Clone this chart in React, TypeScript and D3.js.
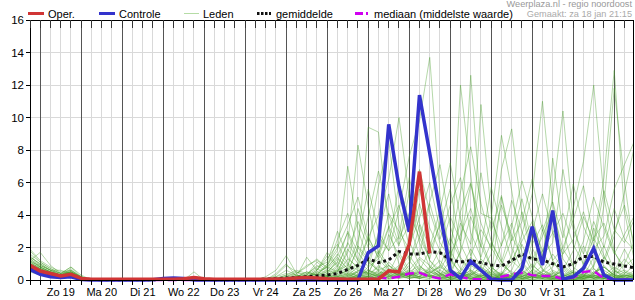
import React from "react";
import * as d3 from "d3";

// time axis: hours relative to 19 jan 00:00, 6-hourly steps
const startHour = -6;
const stepHours = 6;

const dayLabels = ["Zo 19","Ma 20","Di 21","Wo 22","Do 23","Vr 24","Za 25","Zo 26","Ma 27","Di 28","Wo 29","Do 30","Vr 31","Za 1"];
const yTicks = [0, 2, 4, 6, 8, 10, 12, 14, 16];

const oper = [0.9,0.55,0.4,0.25,0.35,0.1,0.05,0.05,0.05,0.05,
  0.05,0.05,0.05,0.05,0.05,0.08,0.15,0.08,0.05,0.05,
  0.05,0.05,0.05,0.05,0.06,0.08,0.12,0.15,0.12,0.08,
  0.06,0.05,0.05,0.05,0.05,0.57,0.5,2.2,6.67,1.64];

const controle = [0.65,0.35,0.2,0.15,0.2,0.03,0,0,0,0,
  0,0,0.02,0.1,0.12,0.1,0,0,0,0,
  0,0,0,0,0,0,0,0,0,0,
  0,0,0,1.68,2.1,9.58,5.74,2.97,11.38,7.8,
  4.2,0.6,0.1,1.15,0.6,0.05,0,0,0.7,3.28,
  0.92,4.27,0.05,0.2,0.72,1.95,0.3,0,0,0];

const gemiddelde = [0.75,0.45,0.3,0.2,0.3,0.08,0.03,0.02,0.02,0.02,
  0.02,0.02,0.02,0.03,0.03,0.03,0.05,0.03,0.02,0.02,
  0.02,0.03,0.03,0.05,0.08,0.12,0.15,0.2,0.25,0.3,
  0.4,0.65,0.9,1.3,1.07,1.23,1.75,1.6,1.6,1.74,
  1.68,1.25,1.1,1.2,1.07,0.92,0.86,1.2,1.6,1.3,
  1.23,1.0,0.8,1.0,1.45,1.45,1.1,0.98,0.86,0.75];

const mediaan = [0.7,0.4,0.25,0.15,0.25,0.02,0,0,0,0,
  0,0,0,0,0,0,0,0,0,0,
  0,0,0,0,0,0,0,0,0,0,
  0,0,0.02,0.05,0.15,0.1,0.2,0.4,0.45,0.2,
  0.1,0.35,0.2,0.05,0.05,0.02,0.2,0.35,0.45,0.3,
  0.25,0.25,0.05,0.15,0.5,0.55,0.1,0.02,0.02,0.02];

const m01 = [1.9,1.2,0.8,0.5,0.6,0.2,0.05,0,0,0, 0,0,0,0,0,0,0,0,0,0, 0,0,0,0.2,0.6,1.5,0.4,0.9,1.2,0.8, 2.5,4.1,2.0,1.1,0.6,2.8,1.5,0.4,0.2,0.1, 0.3,1.2,0.5,0,0.1,0.4,2.2,3.5,1.0,0.2, 0,0.1,0.8,0.3,0,0.2,1.4,0.6,0.1,0];
const m02 = [1.2,1.7,0.9,0.4,0.8,0.3,0,0,0,0, 0,0,0,0,0,0,0.5,0,0,0, 0,0,0,0,0.1,0.3,0.2,0.5,0.3,0.9, 1.8,7.0,3.1,1.2,0.5,0.3,0.8,2.4,0.9,0.3, 0,0,0.2,0.6,0.1,0,0,0.3,1.1,0.4, 0.2,0,0,0.5,2.1,0.7,0.1,0,0.3,0.1];
const m03 = [1.0,0.6,0.4,0.3,0.5,0.1,0,0,0,0, 0,0,0,0.1,0.1,0,0,0,0,0, 0,0,0,0,0.4,1.0,0.2,1.4,0.6,1.7, 0.9,2.2,8.3,4.5,1.6,0.7,0.2,0.9,3.4,1.2, 0.4,0.1,0,0,0.3,0.8,0.2,0,0,0.6, 1.8,0.5,0,0,0.1,0.4,0.9,0.2,0,0];
const m04 = [0.8,0.5,0.3,0.2,0.3,0.05,0,0,0,0, 0,0,0,0,0,0,0,0,0,0, 0,0,0,0,0,0.2,0.1,0.4,0.3,0.5, 1.1,0.6,1.9,9.4,9.1,3.2,1.0,0.4,0.1,0, 0,0.2,0.4,0.1,0,0,0.3,1.5,4.2,2.0, 0.6,0.1,0,0,0.2,0.3,0.1,0,0.4,0.9];
const m05 = [0.6,0.3,0.2,0.1,0.2,0,0,0,0,0, 0,0,0,0,0,0,0,0,0,0, 0,0,0,0,0,0,0,0.1,0.3,0.6, 0.4,1.3,0.8,2.6,4.0,6.2,10.0,5.1,2.3,0.8, 0.2,0,0,0.4,1.3,0.6,0,0,0.2,0.5, 3.1,1.2,0.2,0,0,0,0.3,0.8,0.4,0.1];
const m06 = [1.5,0.9,0.6,0.6,0.4,0.1,0,0,0,0, 0,0,0,0,0,0,0,0,0,0, 0,0,0,0,0,0.1,0,0.2,0.4,0.2, 0.7,0.3,0.5,1.2,2.7,1.8,4.3,7.6,9.8,13.7, 5.2,1.4,0.3,0,0,0.1,0.2,0,0.4,1.0, 0.3,0,0,0.2,0.6,0.1,0,0,0.1,0.3];
const m07 = [0.9,0.7,0.5,0.3,0.7,0.1,0,0,0,0, 0,0,0,0,0,0,0.2,0.1,0,0, 0,0,0,0,0.3,0.9,0.5,0.2,0.1,0.3, 0.2,0.6,1.0,0.4,1.6,3.3,2.1,5.4,3.0,1.2, 0.6,0.3,12.0,6.5,1.1,0.4,0.1,0,0,0.2, 0.5,1.6,0.7,0.2,0,0,0.1,0.4,1.3,0.6];
const m08 = [1.3,0.8,0.5,0.3,0.4,0.15,0,0,0,0, 0,0,0,0,0,0,0,0,0,0, 0,0,0,0,0,0,0,0,0.2,0.4, 0.9,0.5,0.2,0.8,1.3,0.6,0.3,1.1,2.6,4.8, 7.1,3.3,1.4,0.6,10.8,4.1,1.2,0.3,0.1,0, 0,0.2,0.6,0.1,0,0.4,0.8,0.3,0,0];
const m09 = [0.7,0.4,0.3,0.2,0.3,0.05,0,0,0,0, 0,0,0,0,0,0,0,0,0,0, 0,0,0,0,0.1,0.2,0.1,0.3,0.1,0.2, 0.3,0.1,0.6,0.4,0.2,0.9,0.5,0.2,0.6,1.8, 3.4,5.6,2.2,0.9,0.5,1.6,6.8,9.3,4.0,1.5, 0.7,0.2,0,0,0.1,0.3,0.2,0,0,0.1];
const m10 = [1.1,0.7,0.4,0.3,0.4,0.1,0,0,0,0, 0,0,0,0,0,0,0,0,0,0, 0,0,0,0,0,0,0,0,0,0.1, 0.2,0.4,0.1,0.3,0.8,0.4,0.2,0.5,0.9,0.3, 0.1,0.5,1.7,3.9,2.1,0.8,0.3,1.0,2.8,5.3, 11.0,4.7,1.3,0.4,0.2,0.9,2.1,0.6,0.2,0];
const m11 = [0.7,0.5,0.3,0.2,0.2,0.05,0,0,0,0, 0,0,0,0,0,0,0,0,0,0, 0,0,0,0,0,0,0,0.1,0,0.2, 0.1,0.3,0.2,0.6,0.3,0.1,0.4,0.2,0.7,0.4, 0.9,0.3,0.1,0.5,0.2,0,0.4,1.2,0.6,2.9, 1.4,5.2,10.4,3.6,0.8,0.3,0.1,0.5,1.9,0.7];
const m12 = [0.9,0.6,0.4,0.2,0.5,0.1,0,0,0,0, 0,0,0,0,0,0,0,0,0,0, 0,0,0,0,0,0,0,0,0,0, 0,0.1,0.2,0.5,0.2,0.3,0.7,1.5,0.6,0.2, 0.4,0.1,0,0.3,0.8,2.3,1.1,0.4,0.2,0.6, 0.3,0.8,1.6,4.4,7.3,12.0,5.1,1.8,0.5,0.2];
const m13 = [1.4,1.0,0.6,0.4,0.5,0.2,0,0,0,0, 0,0,0,0,0,0,0,0,0,0, 0,0,0,0,0,0,0,0.2,0.1,0.3, 0.6,0.9,0.4,0.2,0.5,0.3,0.1,0.4,0.2,0.7, 1.9,0.6,0.2,0.4,0.1,0.3,0.9,0.5,0.3,0.1, 0.4,0.2,0.6,1.8,3.9,2.4,6.3,12.9,4.2,1.1];
const m14 = [0.5,0.3,0.2,0.1,0.2,0,0,0,0,0, 0,0,0,0,0,0,0,0,0,0, 0,0,0,0,0,0,0,0,0,0.1, 0.1,0.2,0.1,0,0.3,0.1,0.2,0.1,0.4,0.2, 0.1,0,0.3,0.1,0.2,0.5,0.2,0.1,0,0.2, 0.6,0.3,0.1,0.2,0.9,0.4,1.1,2.7,5.4,8.3];
const m15 = [0.8,0.6,0.4,0.3,0.6,0.1,0,0,0,0, 0,0,0,0,0,0,0,0,0,0, 0,0,0,0,0.1,0.3,0.6,0.4,0.8,1.1, 3.0,1.4,0.7,0.3,0.1,0.2,0.6,0.3,0.1,0.4, 0.8,2.6,1.3,0.5,0.2,0.1,0.3,0,0.1,0.2, 0.1,0.4,0.2,0,0.3,0.7,0.2,0.1,0.5,0.2];
const m16 = [1.0,0.8,0.5,0.3,0.4,0.1,0,0,0,0, 0,0,0,0,0,0,0,0,0,0, 0,0,0,0,0,0,0.1,0.2,0.5,0.3, 0.8,0.4,2.1,1.3,0.6,0.9,0.4,0.2,0.1,0.3, 0.2,0.1,0.5,1.4,0.7,0.3,0.1,0.4,0.2,0, 0.1,0,0.3,0.6,0.2,0.1,0.4,0.2,0,0];
const m17 = [0.6,0.4,0.3,0.2,0.3,0.05,0,0,0,0, 0,0,0,0,0,0,0,0,0,0, 0,0,0,0,0,0,0,0,0.1,0.1, 0.2,0.1,0.3,0.2,0.1,0.4,0.9,0.3,0.2,0.1, 0.3,0.7,0.2,0.1,0,0.2,0.1,0.3,0.6,0.2, 0.1,0.3,0.1,0,0.2,0.5,0.8,0.3,0.1,0];
const m18 = [1.1,0.9,0.6,0.3,0.5,0.15,0,0,0,0, 0,0,0,0,0,0,0,0,0,0, 0,0,0,0,0,0.1,0,0.3,0.7,0.4, 1.3,0.7,0.3,0.2,0.6,0.3,0.1,0.2,0.5,0.3, 0.1,0,0.2,0.1,0.3,0.1,0,0.2,0.4,0.1, 0.3,0.1,0,0.4,0.1,0.2,0.1,0,0.2,0.4];
const m19 = [0.7,0.4,0.3,0.2,0.3,0.05,0,0,0,0, 0,0,0,0,0,0,0,0,0,0, 0,0,0,0,0,0,0,0,0,0, 0,0.1,0,0.2,0.1,0,0.3,0.1,0.2,0.5, 0.3,0.1,0.4,0.2,0,0.1,0.3,0.2,0.1,0, 0.2,0.1,0.3,0.2,0.1,0,0.2,0.1,0,0.1];
const m20 = [1.6,1.1,0.7,0.4,0.5,0.2,0,0,0,0, 0,0,0,0,0,0,0,0,0,0, 0,0,0,0,0,0,0,0,0,0.2, 0.5,1.7,3.6,2.0,5.8,8.6,3.4,1.2,0.4,0.2, 0.5,0.3,0.1,0.3,0.6,0.2,0.1,0,0.2,0.4, 0.1,0,0.2,0.5,0.3,0.1,0.4,0.2,1.0,2.4];
const m21 = [0.9,0.5,0.3,0.2,0.3,0.1,0,0,0,0, 0,0,0,0,0,0,0,0,0,0, 0,0,0,0,0,0,0,0,0,0, 0.1,0,0.2,0.4,0.3,1.1,0.5,2.0,4.7,2.4, 1.0,0.3,4.2,6.0,2.5,0.8,0.3,0.1,0.3,0.9, 0.4,0.2,0.1,0.3,0.8,3.2,1.5,0.4,0.1,0];
const m22 = [1.2,0.8,0.5,0.3,0.4,0.1,0,0,0,0, 0,0,0,0,0,0,0,0,0,0, 0,0,0,0.1,0.2,0.4,0.3,0.1,0.5,0.8, 1.5,2.9,1.2,0.6,0.3,0.7,0.4,0.2,1.3,0.6, 0.3,0.1,0.6,1.9,0.8,0.3,5.1,2.0,0.6,0.2, 0.1,0.5,0.3,0.1,0.4,0.2,0,0.1,0.3,0.2];
const m23 = [0.8,0.5,0.4,0.2,0.4,0.1,0,0,0,0, 0,0,0,0,0,0,0,0,0,0, 0,0,0,0,0,0,0,0,0.1,0, 0.3,0.6,0.2,0.1,0.4,0.2,0.5,0.3,0.8,0.5, 0.2,0.6,0.4,0.2,0.1,0.3,0.5,0.2,0.1,0.3, 0.9,7.5,3.1,0.8,0.3,0.1,0.2,0.6,0.3,0.1];
const m24 = [1.0,0.7,0.4,0.3,0.4,0.1,0,0,0,0, 0,0,0,0,0,0,0,0,0,0, 0,0,0,0,0,0,0,0,0,0.1, 0.2,0.4,0.3,0.1,0.2,0.5,0.3,0.6,1.4,0.9, 0.4,0.2,0.1,0.2,0.4,0.2,0.1,0.3,0.2,0.1, 0.2,0.4,0.1,0.2,0.3,0.8,4.6,11.8,6.1,1.4];
const m25 = [0.6,0.4,0.2,0.2,0.2,0,0,0,0,0, 0,0,0,0,0,0,0,0,0,0, 0,0,0,0,0,0.1,0.2,0.1,0,0.3, 0.1,0.2,0.1,0.2,0.3,0.1,0.2,0.3,0.4,0.2, 0.1,0.3,1.8,12.6,4.1,3.8,8.9,5.5,1.7,0.5, 0.2,0.1,0,0.1,0.2,0.1,0.3,0.1,0,0];
const m26 = [1.3,0.9,0.6,0.4,0.6,0.2,0,0,0,0, 0,0,0,0,0,0,0,0,0,0, 0,0,0,0,0,0,0,0.1,0.2,0.1, 0.4,0.2,0.5,0.3,0.9,0.4,1.7,0.6,0.3,0.5, 0.8,0.4,0.2,0.6,0.3,0.2,0.4,0.1,0.3,0.2, 0.5,1.1,0.4,0.2,0.1,0.3,0.2,0.4,0.6,0.3];
const m27 = [0.7,0.5,0.3,0.2,0.3,0.05,0,0,0,0, 0,0,0,0,0,0,0,0,0,0, 0,0,0,0,0,0,0,0,0,0, 0.1,0.3,0.1,0.2,0.1,0.2,0.3,0.1,0.2,0.6, 1.2,0.4,0.2,0.1,0.3,0.1,0.2,0.6,2.2,0.7, 0.3,0.2,0.9,0.4,0.1,0.2,0.1,0.3,0.2,0.1];
const m28 = [1.1,0.7,0.5,0.3,0.4,0.1,0,0,0,0, 0,0,0,0,0,0,0,0,0,0, 0,0,0,0,0,0,0,0.1,0.3,0.2, 0.6,0.3,0.8,0.4,0.2,0.6,0.3,0.2,0.1,0.3, 0.6,1.8,0.7,0.3,0.1,0.2,0.4,0.2,0.1,0.3, 0.2,0.6,0.3,0.1,0.2,1.4,0.6,0.2,0.1,0.3];
const m29 = [0.9,0.6,0.4,0.2,0.4,0.1,0,0,0,0, 0,0,0,0,0,0,0,0,0,0, 0,0,0,0,0,0,0,0,0,0, 0.2,0.1,0.3,0.6,0.4,0.2,0.4,0.3,0.5,0.2, 0.1,0.2,0.4,0.3,0.8,0.4,0.2,0.1,0.4,0.3, 0.2,0.1,0.2,0.5,0.3,0.2,0.1,0.2,0.3,0.2];
const m30 = [1.8,1.1,0.7,0.4,0.8,0.2,0,0,0,0, 0,0,0,0,0,0,0,0,0,0, 0,0,0,0,0,0.1,0.3,0.2,0.6,1.3, 2.2,1.0,0.6,0.4,1.8,0.9,0.3,0.5,0.2,0.8, 0.4,0.1,0.2,0.4,0.2,0.6,0.3,0.1,0.5,0.2, 0.3,0.2,0.1,0.3,0.2,0.4,0.8,0.3,0.2,0.6];
const m31 = [1.0,0.6,0.4,0.3,0.4,0.1,0,0,0,0, 0,0,0,0,0,0,0,0,0,0, 0,0,0,0,0,0,0.2,0.5,0.3,1.0, 2.0,3.4,5.1,2.6,1.4,3.2,4.6,2.1,3.8,6.0, 3.1,1.6,2.8,4.4,2.0,5.7,3.3,1.2,2.4,3.6, 1.8,2.9,4.1,2.2,1.0,2.6,3.5,1.7,0.8,1.4];
const m32 = [0.8,0.5,0.3,0.2,0.3,0.1,0,0,0,0, 0,0,0,0,0,0,0,0,0,0, 0,0,0,0,0,0.1,0.4,0.8,1.3,0.7, 1.6,0.9,2.4,5.6,3.0,1.8,2.7,6.3,3.5,2.0, 4.3,7.2,3.8,1.5,3.1,2.0,0.9,2.5,5.0,2.2, 3.4,1.2,2.0,3.7,5.8,2.6,1.3,3.0,4.6,2.1];
const m33 = [1.4,1.0,0.6,0.3,0.5,0.1,0,0,0,0, 0,0,0,0,0,0,0,0,0,0, 0,0,0,0,0.2,0.6,0.3,0.2,0.6,1.5, 0.8,2.3,1.2,3.9,6.7,4.0,2.2,3.4,1.5,4.7, 2.5,4.6,6.3,2.9,1.4,3.7,2.1,4.9,3.0,1.2, 2.7,4.3,1.9,0.9,2.4,5.1,3.2,1.6,2.8,4.0];
const m34 = [0.7,0.4,0.3,0.2,0.2,0.05,0,0,0,0, 0,0,0,0,0,0,0,0,0,0, 0,0,0,0,0,0,0.1,0.3,0.9,0.5, 1.1,3.0,1.7,0.8,2.9,5.3,2.5,4.1,2.6,1.3, 3.6,2.1,5.4,8.2,4.7,2.4,1.1,3.3,6.1,3.9, 1.5,2.3,6.8,3.1,1.6,3.6,2.0,4.4,2.5,1.8];
const m35 = [1.2,0.8,0.5,0.3,0.5,0.15,0,0,0,0, 0,0,0,0,0,0,0.1,0,0,0, 0,0,0,0,0.1,0.2,0.5,0.3,1.1,0.6, 1.4,0.7,4.4,2.3,1.6,4.1,3.0,1.9,5.6,3.2, 1.8,3.9,2.4,5.9,3.5,1.9,4.6,2.7,1.4,3.0, 5.3,2.9,1.6,2.5,4.2,2.1,5.5,3.1,2.3,3.8];
const m36 = [0.9,0.7,0.4,0.3,0.4,0.1,0,0,0,0, 0,0,0,0,0,0,0,0,0,0, 0,0,0,0,0,0,0.2,0.1,0.4,0.8, 0.5,1.9,1.0,2.7,1.3,2.2,5.9,3.6,6.8,4.2, 2.3,1.3,3.5,2.2,6.6,3.0,5.2,2.4,3.6,6.2, 3.0,4.8,2.6,5.9,3.3,1.9,2.7,5.6,7.1,8.6];

const leden = [m01,m02,m03,m04,m05,m06,m07,m08,m09,m10,m11,m12,m13,m14,m15,m16,m17,m18,
  m19,m20,m21,m22,m23,m24,m25,m26,m27,m28,m29,m30,m31,m32,m33,m34,m35,m36];

const W = 635, H = 300;
const L = 30, R = 633, T = 20, B = 280;
const FONT = '"Liberation Sans", Arial, Helvetica, sans-serif';

export default function App() {
  const x = d3.scaleLinear().domain([-6, 347]).range([L, R]);
  const y = d3.scaleLinear().domain([0, 16]).range([B, T]);
  const hourOf = (i: number) => startHour + stepHours * i;
  const line = d3.line<number>().x((_, i) => x(hourOf(i))).y((d) => y(d));

  const sixHours = d3.range(-6, 347, 6);
  const dayHours = sixHours.filter((h) => h % 24 === 0);
  const minorHours = sixHours.filter((h) => h % 24 !== 0 && h > -6);

  return (
    <svg width={W} height={H} style={{ position: "absolute", left: 0, top: 0, background: "#fff" }} fontFamily={FONT}>
      <defs>
        <clipPath id="plotclip">
          <rect x={L} y={0} width={R - L} height={H} />
        </clipPath>
      </defs>
      <rect x={0} y={0} width={W} height={H} fill="#fff" />
      {/* grid */}
      <g shapeRendering="crispEdges">
        {yTicks.filter((v) => v > 0 && v < 16).map((v) => (
          <line key={"hy" + v} x1={L} x2={R} y1={y(v)} y2={y(v)} stroke="#d9d9d9" />
        ))}
        {minorHours.map((h) => (
          <line key={"gx" + h} x1={x(h)} x2={x(h)} y1={T} y2={B} stroke="#d9d9d9" />
        ))}
        {dayHours.map((h) => (
          <line key={"dx" + h} x1={x(h)} x2={x(h)} y1={T} y2={B} stroke="#555" />
        ))}
      </g>
      {/* series */}
      <g clipPath="url(#plotclip)" fill="none" strokeLinejoin="round">
        {leden.map((m, k) => (
          <path key={"m" + k} d={line(m) || ""} stroke="rgb(70,158,40)" strokeOpacity={0.4} strokeWidth={1} />
        ))}
        <path d={line(mediaan) || ""} stroke="#d000f0" strokeWidth={2.5} strokeDasharray="9,5" strokeLinejoin="miter" />
        <path d={line(gemiddelde) || ""} stroke="#111" strokeWidth={3} strokeDasharray="3,3" strokeLinejoin="miter" />
        <path d={line(controle) || ""} stroke="#3333cc" strokeWidth={3.5} strokeLinejoin="miter" />
        <path d={line(oper) || ""} stroke="#d03535" strokeWidth={3.5} strokeLinejoin="miter" />
      </g>
      {/* frame + ticks */}
      <g shapeRendering="crispEdges" stroke="#000">
        <line x1={L} x2={R} y1={T} y2={T} />
        <line x1={L} x2={R} y1={B} y2={B} />
        <line x1={L} x2={L} y1={T} y2={B} />
        <line x1={R} x2={R} y1={T} y2={B} />
        {sixHours.map((h) => (
          <line key={"bt" + h} x1={x(h)} x2={x(h)} y1={B} y2={B + 5} />
        ))}
        {sixHours.map((h) => (
          <line key={"tt" + h} x1={x(h)} x2={x(h)} y1={T} y2={T + 8} stroke="#333" />
        ))}
        {yTicks.map((v) => (
          <line key={"yt" + v} x1={L - 4} x2={L} y1={y(v)} y2={y(v)} />
        ))}
      </g>
      {/* axis labels */}
      <g fontSize={11.5} fill="#000">
        {yTicks.map((v) => (
          <text key={"yl" + v} x={L - 6} y={y(v) + 4} textAnchor="end">{v}</text>
        ))}
      </g>
      <g fontSize={11} fill="#000">
        {dayLabels.map((lab, k) => (
          <text key={lab} x={x(12 + 24 * k)} y={296} textAnchor="middle">{lab}</text>
        ))}
      </g>
      {/* legend */}
      <g fontSize={11} fill="#000">
        <line x1={28} x2={44} y1={13.5} y2={13.5} stroke="#d03535" strokeWidth={3} />
        <text x={48} y={17.5}>Oper.</text>
        <line x1={99} x2={115} y1={13.5} y2={13.5} stroke="#3333cc" strokeWidth={3} />
        <text x={119} y={17.5}>Controle</text>
        <line x1={184} x2={199} y1={13.5} y2={13.5} stroke="#b5dca5" strokeWidth={1} />
        <text x={203} y={17.5}>Leden</text>
        <line x1={257} x2={271} y1={13.5} y2={13.5} stroke="#111" strokeWidth={3} strokeDasharray="2.5,1.5" />
        <text x={276} y={17.5}>gemiddelde</text>
        <line x1={355} x2={368} y1={13.5} y2={13.5} stroke="#d000f0" strokeWidth={3} strokeDasharray="8,3" />
        <text x={374} y={17.5}>mediaan (middelste waarde)</text>
      </g>
      <g fontSize={9.2} textAnchor="end">
        <text x={632} y={7} fill="#999">Weerplaza.nl - regio noordoost</text>
        <text x={632} y={17} fill="#aaa">Gemaakt: za 18 jan 21:15</text>
      </g>
    </svg>
  );
}
